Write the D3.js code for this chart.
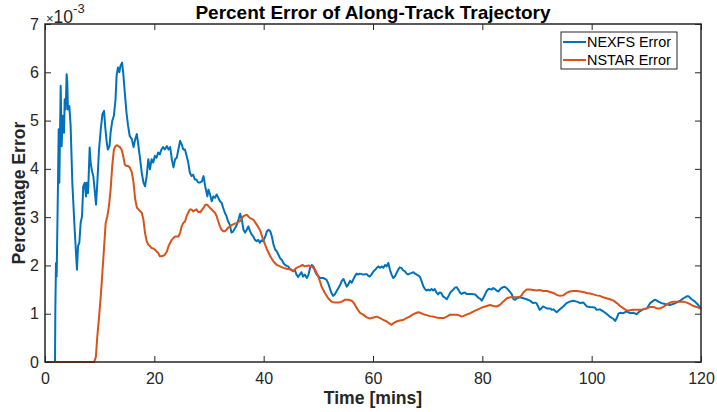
<!DOCTYPE html>
<html>
<head>
<meta charset="utf-8">
<script src="https://cdn.jsdelivr.net/npm/d3@7"></script>
<style>
  body { margin: 0; background: #fff; }
  svg { display: block; font-family: "Liberation Sans", Arial, Helvetica, sans-serif; }
</style>
</head>
<body>
<div id="vis"></div>
<script>
// values are in units of 1e-3 (axis shows x10^-3)
const nexfs = [[0,0],[1.83,0],[1.89,1.08],[2.01,2.05],[2.13,1.77],[2.38,3.71],[2.5,4.82],[2.62,3.71],[2.74,4.68],[2.87,5.72],[3.05,4.47],[3.23,5.10],[3.48,4.75],[3.6,5.44],[3.78,5.23],[3.96,5.96],[4.08,5.79],[4.2,5.23],[4.45,5.30],[4.69,4.89],[5.0,3.71],[5.18,3.30],[5.43,2.74],[5.67,2.26],[5.85,1.91],[6.04,2.40],[6.28,2.47],[6.52,2.88],[6.77,3.02],[7.0,3.64],[7.26,3.71],[7.5,3.43],[7.62,3.71],[7.87,3.50],[7.99,3.85],[8.17,4.44],[8.35,4.13],[8.6,3.95],[8.84,3.85],[9.08,3.57],[9.33,3.26],[9.57,3.71],[9.88,4.40],[10.2,4.82],[10.5,5.13],[10.8,5.20],[11.0,4.89],[11.3,4.54],[11.5,4.40],[11.8,4.47],[12.0,4.75],[12.3,4.99],[12.6,5.10],[12.9,5.44],[13.1,5.93],[13.35,6.10],[13.6,6.0],[13.8,6.13],[14.1,6.20],[14.3,6.0],[14.6,5.58],[14.9,5.17],[15.2,4.89],[15.5,4.68],[15.9,4.61],[16.2,4.45],[16.5,4.61],[16.8,4.72],[17.1,4.47],[17.4,4.20],[17.7,3.92],[18.0,3.72],[18.3,3.64],[18.6,3.85],[18.9,4.20],[19.2,3.99],[19.5,4.20],[19.8,4.13],[20.1,4.27],[20.4,4.23],[20.7,4.34],[21.0,4.30],[21.3,4.40],[21.6,4.45],[21.9,4.40],[22.3,4.47],[22.6,4.40],[22.9,4.45],[23.2,4.20],[23.5,4.03],[23.8,4.20],[24.1,4.23],[24.4,4.40],[24.7,4.58],[25.0,4.51],[25.3,4.40],[25.6,4.40],[25.9,4.27],[26.2,4.13],[26.5,3.92],[26.8,3.85],[27.1,3.88],[27.4,3.78],[27.7,3.78],[28.0,3.72],[28.4,3.72],[28.7,3.74],[29.0,3.85],[29.3,3.64],[29.7,3.43],[29.9,3.57],[30.2,3.47],[30.5,3.33],[30.8,3.43],[31.1,3.40],[31.4,3.47],[31.7,3.40],[32.0,3.33],[32.3,3.30],[32.6,3.19],[32.9,3.09],[33.2,3.02],[33.5,2.91],[33.8,2.85],[34.1,2.68],[34.4,2.70],[34.8,2.78],[35.1,2.85],[35.4,2.95],[35.7,3.07],[36.0,2.95],[36.3,2.74],[36.6,2.68],[36.9,2.74],[37.2,2.81],[37.5,2.71],[37.8,2.64],[38.1,2.60],[38.4,2.53],[38.7,2.50],[39.0,2.53],[39.3,2.47],[39.6,2.52],[39.9,2.50],[40.3,2.60],[40.6,2.71],[40.9,2.74],[41.2,2.71],[41.5,2.60],[41.8,2.43],[42.1,2.33],[42.4,2.29],[42.7,2.22],[43.0,2.15],[43.3,2.12],[43.6,2.05],[43.9,2.01],[44.2,1.99],[44.5,1.98],[44.8,1.92],[45.1,1.91],[45.4,1.88],[45.7,1.91],[46.0,1.81],[46.3,1.76],[46.6,1.81],[46.9,1.86],[47.2,1.77],[47.5,1.81],[47.9,1.74],[48.2,1.81],[48.5,1.95],[48.8,2.01],[49.1,1.98],[49.4,1.88],[49.7,1.81],[50.0,1.78],[50.3,1.74],[50.9,1.74],[51.5,1.70],[51.8,1.63],[52.1,1.53],[52.4,1.43],[52.7,1.37],[53.0,1.40],[53.3,1.46],[53.7,1.54],[54.0,1.60],[54.3,1.68],[54.6,1.72],[54.9,1.64],[55.2,1.56],[55.5,1.61],[55.8,1.68],[56.1,1.64],[56.4,1.71],[56.7,1.78],[57.0,1.83],[57.3,1.81],[57.6,1.83],[58.2,1.81],[58.8,1.82],[59.1,1.79],[59.4,1.77],[59.7,1.81],[60.1,1.88],[60.4,1.91],[60.7,1.95],[61.0,1.98],[61.3,1.95],[61.6,1.98],[61.9,1.95],[62.2,2.01],[62.5,1.98],[62.8,2.05],[63.1,1.91],[63.4,1.81],[63.7,1.74],[64.0,1.77],[64.3,1.84],[64.6,1.91],[64.9,1.96],[65.2,1.95],[65.5,1.90],[65.8,1.88],[66.1,1.84],[66.4,1.81],[66.7,1.83],[67.0,1.84],[67.4,1.86],[67.7,1.83],[68.0,1.81],[68.3,1.79],[68.6,1.76],[68.9,1.67],[69.2,1.57],[69.5,1.51],[69.8,1.48],[70.1,1.50],[70.4,1.48],[70.7,1.51],[71.0,1.48],[71.3,1.51],[71.6,1.44],[71.9,1.40],[72.2,1.44],[72.5,1.43],[72.8,1.36],[73.2,1.33],[73.5,1.30],[73.8,1.36],[74.1,1.43],[74.4,1.47],[74.7,1.50],[75.0,1.54],[75.3,1.55],[75.6,1.50],[75.9,1.44],[76.2,1.41],[76.5,1.43],[76.8,1.44],[77.1,1.41],[77.4,1.41],[78.1,1.41],[78.7,1.40],[79.0,1.36],[79.3,1.33],[79.6,1.31],[79.9,1.27],[80.2,1.33],[80.5,1.40],[80.8,1.47],[81.1,1.51],[81.4,1.51],[81.7,1.50],[82.0,1.53],[82.3,1.51],[82.6,1.48],[82.9,1.46],[83.2,1.50],[83.5,1.53],[83.8,1.55],[84.1,1.56],[84.4,1.53],[84.7,1.50],[85.0,1.46],[85.4,1.40],[85.7,1.30],[86.0,1.29],[86.3,1.32],[86.9,1.34],[87.5,1.32],[88.1,1.30],[88.7,1.27],[89.3,1.22],[89.6,1.23],[89.9,1.22],[90.2,1.15],[90.5,1.08],[90.8,1.11],[91.1,1.15],[91.8,1.11],[92.4,1.11],[92.7,1.08],[93.0,1.09],[93.6,1.03],[94.2,1.09],[94.8,1.15],[95.4,1.22],[96.0,1.25],[96.6,1.27],[97.3,1.25],[97.9,1.22],[98.5,1.23],[99.1,1.15],[99.7,1.14],[100.6,1.13],[100.9,1.08],[101.5,1.09],[102.1,1.05],[102.7,1.0],[103.3,0.94],[104.0,0.89],[104.3,0.85],[104.6,0.91],[104.9,1.0],[105.2,1.02],[105.8,1.01],[106.4,1.05],[107.0,1.01],[107.6,1.02],[108.2,0.99],[108.8,1.05],[109.4,1.09],[110.1,1.11],[110.7,1.22],[111.3,1.27],[111.6,1.29],[112.2,1.25],[112.8,1.22],[113.4,1.20],[114.3,1.18],[114.9,1.20],[115.5,1.23],[116.2,1.27],[116.8,1.32],[117.4,1.36],[117.7,1.36],[118.3,1.30],[118.9,1.25],[119.5,1.18],[120,1.10]];

const nstar = [[0,0],[9.0,0],[9.3,0.1],[9.57,0.53],[9.9,0.95],[10.2,1.36],[10.7,2.19],[11.1,2.88],[11.4,3.02],[11.7,3.23],[12.0,3.57],[12.3,4.06],[12.6,4.40],[12.9,4.47],[13.2,4.49],[13.7,4.45],[14.0,4.40],[14.3,4.27],[14.6,4.09],[14.9,4.06],[15.2,4.06],[15.5,4.03],[15.9,3.92],[16.2,3.71],[16.5,3.37],[16.8,3.20],[17.1,3.16],[17.4,3.12],[17.7,3.09],[18.0,2.95],[18.3,2.67],[18.6,2.50],[18.9,2.43],[19.2,2.40],[19.5,2.36],[19.8,2.35],[20.1,2.33],[20.4,2.29],[20.7,2.26],[21.0,2.19],[21.3,2.19],[21.6,2.20],[21.9,2.22],[22.3,2.29],[22.6,2.40],[22.9,2.47],[23.2,2.53],[23.5,2.57],[23.8,2.60],[24.1,2.60],[24.4,2.60],[24.7,2.67],[25.0,2.81],[25.3,2.88],[25.6,2.91],[25.9,3.02],[26.2,3.09],[26.5,3.16],[26.8,3.16],[27.1,3.12],[27.4,3.14],[27.7,3.16],[28.0,3.11],[28.4,3.10],[28.7,3.15],[29.0,3.19],[29.3,3.25],[29.6,3.26],[29.9,3.23],[30.2,3.19],[30.5,3.16],[30.8,3.12],[31.1,3.09],[31.4,3.02],[31.7,2.91],[32.0,2.81],[32.3,2.74],[32.6,2.71],[32.9,2.71],[33.2,2.74],[33.5,2.78],[33.8,2.81],[34.4,2.85],[35.1,2.88],[35.7,2.92],[36.3,3.02],[36.9,3.05],[37.5,2.98],[38.1,2.95],[38.7,2.85],[39.3,2.74],[39.9,2.54],[40.6,2.33],[41.2,2.19],[41.8,2.08],[42.4,2.01],[43.0,1.98],[43.6,1.95],[44.2,1.93],[44.8,1.92],[45.4,1.88],[46.0,1.95],[46.6,1.98],[47.1,2.01],[47.5,1.98],[48.2,2.0],[48.8,1.98],[49.4,1.91],[50.0,1.77],[50.6,1.56],[51.2,1.43],[51.8,1.32],[52.4,1.25],[53.0,1.23],[53.7,1.23],[54.3,1.25],[54.9,1.29],[55.5,1.29],[56.1,1.27],[56.5,1.22],[57.0,1.12],[57.6,1.02],[58.2,0.98],[58.8,0.93],[59.4,0.90],[60.1,0.92],[60.7,0.94],[61.3,0.91],[61.9,0.87],[62.5,0.84],[63.1,0.79],[63.4,0.77],[63.7,0.80],[64.3,0.84],[64.9,0.86],[65.5,0.87],[66.1,0.91],[66.7,0.94],[67.4,0.99],[68.0,1.02],[68.3,1.03],[68.6,1.02],[69.2,0.99],[69.8,0.97],[70.4,0.95],[71.0,0.94],[71.6,0.92],[72.2,0.91],[72.9,0.91],[73.5,0.94],[74.1,0.98],[74.7,0.98],[75.3,0.98],[75.9,0.96],[76.2,0.94],[76.5,0.95],[77.1,0.98],[77.8,1.01],[78.4,1.05],[79.0,1.08],[79.6,1.11],[80.2,1.14],[80.8,1.16],[81.4,1.18],[82.0,1.16],[82.6,1.15],[83.2,1.18],[83.8,1.25],[84.5,1.32],[85.1,1.34],[85.7,1.34],[86.3,1.34],[86.9,1.35],[87.2,1.38],[87.5,1.44],[87.8,1.47],[88.1,1.50],[88.7,1.50],[89.3,1.49],[89.9,1.48],[90.5,1.49],[91.1,1.47],[91.8,1.47],[92.4,1.45],[93.0,1.43],[93.6,1.39],[94.2,1.37],[94.8,1.38],[95.4,1.43],[96.0,1.46],[96.6,1.47],[97.3,1.47],[97.9,1.46],[98.5,1.45],[99.1,1.43],[99.7,1.42],[100.3,1.40],[100.9,1.38],[101.5,1.37],[102.1,1.34],[102.7,1.32],[103.3,1.30],[104.0,1.27],[104.6,1.22],[105.2,1.16],[105.8,1.11],[106.4,1.07],[106.7,1.06],[107.0,1.07],[107.6,1.08],[108.2,1.08],[108.8,1.08],[109.4,1.09],[110.1,1.11],[110.7,1.14],[111.3,1.14],[111.9,1.11],[112.5,1.11],[113.1,1.14],[113.7,1.19],[114.3,1.23],[114.9,1.25],[115.5,1.25],[116.2,1.25],[116.8,1.25],[117.4,1.23],[118.0,1.20],[118.6,1.16],[119.2,1.14],[119.8,1.11],[120,1.10]];

const seriesNames = ["NEXFS Error", "NSTAR Error"];
const seriesColors = ["#0072BD", "#D95319"];
const xTicks = [0, 20, 40, 60, 80, 100, 120];
const yTicks = [0, 1, 2, 3, 4, 5, 6, 7];

const width = 717, height = 412;
const margin = { top: 24, right: 16, bottom: 50, left: 45 };
const axisColor = "#262626";

const svg = d3.select("#vis").append("svg")
    .attr("width", width)
    .attr("height", height);

const x = d3.scaleLinear().domain([0, 120]).range([margin.left, width - margin.right]);
const y = d3.scaleLinear().domain([0, 7]).range([height - margin.bottom, margin.top]);

const line = d3.line()
    .x(d => x(d[0]))
    .y(d => y(d[1]));

// lines
const plot = svg.append("g");
[nexfs, nstar].forEach((data, i) => {
    plot.append("path")
        .datum(data)
        .attr("fill", "none")
        .attr("stroke", seriesColors[i])
        .attr("stroke-width", 2)
        .attr("stroke-linejoin", "round")
        .attr("d", line);
});

// axes (ticks pointing inward, box on)
function styleAxis(g) {
    g.select(".domain").remove();
    g.selectAll(".tick line").attr("stroke", axisColor).attr("stroke-width", 1);
    g.selectAll(".tick text").attr("fill", axisColor).attr("font-size", 16)
        .attr("font-family", "Liberation Sans, Arial, sans-serif");
}

svg.append("g")
    .attr("transform", `translate(0,${y(0)})`)
    .call(d3.axisBottom(x).tickValues(xTicks).tickSizeInner(-6).tickSizeOuter(0).tickPadding(11))
    .call(styleAxis);

svg.append("g")
    .attr("transform", `translate(0,${y(7)})`)
    .call(d3.axisTop(x).tickValues(xTicks).tickSizeInner(-6).tickSizeOuter(0).tickFormat(""))
    .call(styleAxis);

svg.append("g")
    .attr("transform", `translate(${x(0)},0)`)
    .call(d3.axisLeft(y).tickValues(yTicks).tickSizeInner(-6).tickSizeOuter(0).tickPadding(6).tickFormat(d3.format("d")))
    .call(styleAxis);

svg.append("g")
    .attr("transform", `translate(${x(120)},0)`)
    .call(d3.axisRight(y).tickValues(yTicks).tickSizeInner(-6).tickSizeOuter(0).tickFormat(""))
    .call(styleAxis);

svg.append("rect")
    .attr("x", x(0))
    .attr("y", y(7))
    .attr("width", x(120) - x(0))
    .attr("height", y(0) - y(7))
    .attr("fill", "none")
    .attr("stroke", axisColor)
    .attr("stroke-width", 1.5);

// exponent label
const expo = svg.append("text")
    .attr("x", x(0) + 1)
    .attr("y", 22.5)
    .attr("fill", axisColor)
    .attr("font-size", 17.5);
expo.append("tspan").attr("font-size", 13).text("\u00d7");
expo.append("tspan").text("10");
expo.append("tspan").attr("font-size", 13).attr("dy", -10).text("-3");

// title and axis labels
svg.append("text")
    .attr("x", (x(0) + x(120)) / 2)
    .attr("y", 19)
    .attr("text-anchor", "middle")
    .attr("font-weight", "bold")
    .attr("font-size", 19)
    .attr("fill", "#000")
    .text("Percent Error of Along-Track Trajectory");

svg.append("text")
    .attr("x", (x(0) + x(120)) / 2)
    .attr("y", 404)
    .attr("text-anchor", "middle")
    .attr("font-weight", "bold")
    .attr("font-size", 17.6)
    .attr("fill", axisColor)
    .text("Time [mins]");

svg.append("text")
    .attr("transform", `translate(25,${(y(0) + y(7)) / 2}) rotate(-90)`)
    .attr("text-anchor", "middle")
    .attr("font-weight", "bold")
    .attr("font-size", 17.6)
    .attr("fill", axisColor)
    .text("Percentage Error");

// legend
const legend = svg.append("g").attr("transform", "translate(561,32)");
legend.append("rect")
    .attr("width", 116)
    .attr("height", 37)
    .attr("fill", "#fff")
    .attr("stroke", axisColor)
    .attr("stroke-width", 1);

seriesNames.forEach((name, i) => {
    const row = legend.append("g").attr("transform", `translate(0,${10 + i * 18})`);
    row.append("line")
        .attr("x1", 2).attr("x2", 25)
        .attr("stroke", seriesColors[i])
        .attr("stroke-width", 2);
    row.append("text")
        .attr("x", 26)
        .attr("dy", "0.35em")
        .attr("font-size", 14.4)
        .attr("fill", "#000")
        .text(name);
});
</script>
</body>
</html>
